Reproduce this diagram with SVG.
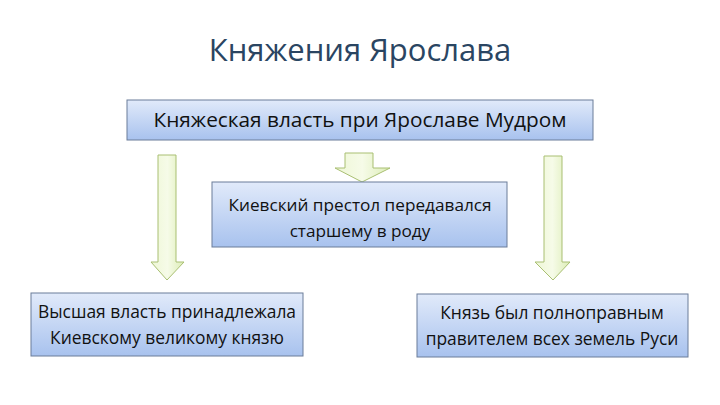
<svg xmlns="http://www.w3.org/2000/svg" width="720" height="405" viewBox="0 0 720 405">
<defs>
<linearGradient id="gBox" x1="0" y1="0" x2="0" y2="1">
<stop offset="0" stop-color="#e1eafa"/>
<stop offset="1" stop-color="#a8c2ee"/>
</linearGradient>
<linearGradient id="gArr" x1="0" y1="0" x2="1" y2="0">
<stop offset="0" stop-color="#eef7d6"/>
<stop offset="0.5" stop-color="#f6fbe8"/>
<stop offset="1" stop-color="#dcedb6"/>
</linearGradient>
<style>
.box{fill:url(#gBox);stroke:#6b7d99;stroke-width:1}
.arr{fill:url(#gArr);stroke:#a9bf72;stroke-width:1}
.t{font-family:"Open Sans","Liberation Sans",sans-serif;fill:#111;text-anchor:middle}
.s{font-size:17.4px}
</style>
</defs>
<rect width="720" height="405" fill="#fff"/>
<text x="360" y="61" class="t" style="font-size:31px;fill:#2a4562">Княжения Ярослава</text>
<g id="connectors">
<path class="arr" d="M158,155 H176 V262 H184 L167,280 L151,262 H158 Z"/>
<path class="arr" d="M345,153 H373 V168 H390 L362,182 L335,168 H345 Z"/>
<path class="arr" d="M544,156 H562 V262 H570 L553,280 L535,262 H544 Z"/>
</g>
<g id="top">
<rect class="box" x="127" y="100" width="466" height="40"/>
<text x="360" y="127" class="t" style="font-size:20.8px">Княжеская власть при Ярославе Мудром</text>
</g>
<g id="middle">
<rect class="box" x="212" y="182" width="295" height="65"/>
<text x="360" y="211" class="t" style="font-size:17.2px">Киевский престол передавался</text>
<text x="360" y="237" class="t" style="font-size:17.2px">старшему в роду</text>
</g>
<g id="left">
<rect class="box" x="31" y="293" width="272" height="63"/>
<text x="167" y="318" class="t s">Высшая власть принадлежала</text>
<text x="167" y="344" class="t s">Киевскому великому князю</text>
</g>
<g id="right">
<rect class="box" x="417" y="294" width="271" height="63"/>
<text x="552" y="319" class="t s">Князь был полноправным</text>
<text x="552" y="345" class="t s">правителем всех земель Руси</text>
</g>
</svg>
